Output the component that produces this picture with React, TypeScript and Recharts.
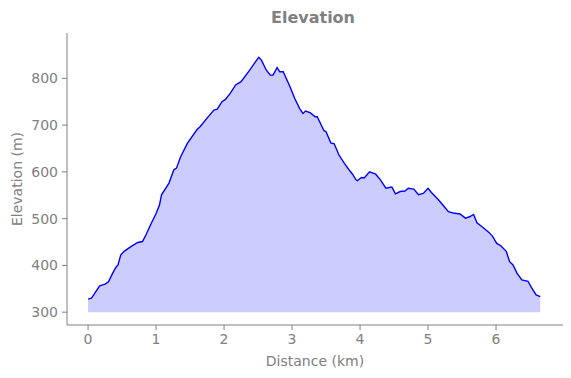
import { Area, AreaChart, XAxis, YAxis } from "recharts"

// distance along the track (km) and elevation (m)
const distanceKm = [
  0.0, 0.05, 0.17, 0.25, 0.3, 0.36, 0.41, 0.44, 0.48, 0.53, 0.63, 0.73, 0.8, 0.85, 0.93, 1.0, 1.05, 1.08,
  1.19, 1.26, 1.3, 1.36, 1.46, 1.6, 1.65, 1.75, 1.85, 1.9, 1.97, 2.02, 2.09, 2.17, 2.25, 2.38, 2.45, 2.51,
  2.55, 2.62, 2.68, 2.72, 2.78, 2.82, 2.87, 2.97, 3.04, 3.11, 3.16, 3.2, 3.27, 3.34, 3.37, 3.47, 3.5, 3.57,
  3.62, 3.69, 3.77, 3.84, 3.89, 3.94, 3.96, 4.02, 4.06, 4.14, 4.23, 4.3, 4.38, 4.45, 4.47, 4.52, 4.59, 4.66,
  4.71, 4.79, 4.86, 4.93, 5.0, 5.05, 5.15, 5.23, 5.3, 5.37, 5.47, 5.55, 5.61, 5.67, 5.72, 5.8, 5.9, 5.95,
  6.01, 6.07, 6.15, 6.2, 6.25, 6.31, 6.38, 6.47, 6.52, 6.59, 6.65,
]
const elevationM = [
  328, 330, 356, 360, 365, 383, 396, 401, 422, 430, 440, 449, 451, 465, 490, 511, 529, 551,
  576, 604, 608, 632, 661, 690, 697, 715, 732, 734, 750, 755, 768, 786, 793, 818, 833, 845,
  839, 818, 807, 807, 823, 814, 814, 782, 757, 736, 725, 730, 726, 718, 718, 688, 686, 662,
  660, 636, 618, 604, 595, 583, 581, 588, 587, 600, 595, 583, 565, 567, 567, 553, 558, 559,
  565, 563, 551, 554, 565, 556, 541, 527, 515, 512, 510, 501, 504, 509, 491, 482, 470, 462,
  447, 442, 430, 408, 401, 383, 369, 366, 353, 337, 333,
]
const xTicks = [0, 1, 2, 3, 4, 5, 6]
const yTicks = [300, 400, 500, 600, 700, 800]

const data = distanceKm.map((d, i) => ({ distance: d, elevation: elevationM[i] }))

const GRAY = "#808080"
const FONT = "'DejaVu Sans', sans-serif"

export default function App() {
  return (
    <div style={{ position: "absolute", left: 0, top: 0, width: 571, height: 378, fontFamily: FONT }}>
      <div
        style={{
          position: "absolute",
          left: 0,
          width: 626,
          top: 8,
          textAlign: "center",
          fontSize: 16,
          fontWeight: "bold",
          color: GRAY,
          lineHeight: "20px",
        }}
      >
        Elevation
      </div>
      <AreaChart width={571} height={378} data={data} margin={{ top: 33, right: 8, left: 0, bottom: 0 }}>
        <XAxis
          dataKey="distance"
          type="number"
          domain={[-0.31, 6.985]}
          ticks={xTicks}
          allowDataOverflow
          stroke={GRAY}
          tickSize={5}
          tickMargin={4}
          height={53}
          tick={{ fill: GRAY, fontSize: 14, fontFamily: FONT }}
          label={{
            value: "Distance (km)",
            position: "insideBottom",
            offset: 12,
            fill: GRAY,
            fontSize: 14,
            fontFamily: FONT,
          }}
        />
        <YAxis
          type="number"
          domain={[272.5, 897]}
          ticks={yTicks}
          allowDataOverflow
          stroke={GRAY}
          tickSize={5}
          tickMargin={4}
          width={67}
          tick={{ fill: GRAY, fontSize: 14, fontFamily: FONT }}
          label={{
            value: "Elevation (m)",
            angle: -90,
            position: "insideLeft",
            offset: 17,
            fill: GRAY,
            fontSize: 14,
            fontFamily: FONT,
            style: { textAnchor: "middle" },
          }}
        />
        <Area
          type="linear"
          dataKey="elevation"
          baseValue={300}
          stroke="#0000ff"
          strokeWidth={1.4}
          fill="#ccccff"
          fillOpacity={1}
          isAnimationActive={false}
          dot={false}
          activeDot={false}
        />
      </AreaChart>
    </div>
  )
}
